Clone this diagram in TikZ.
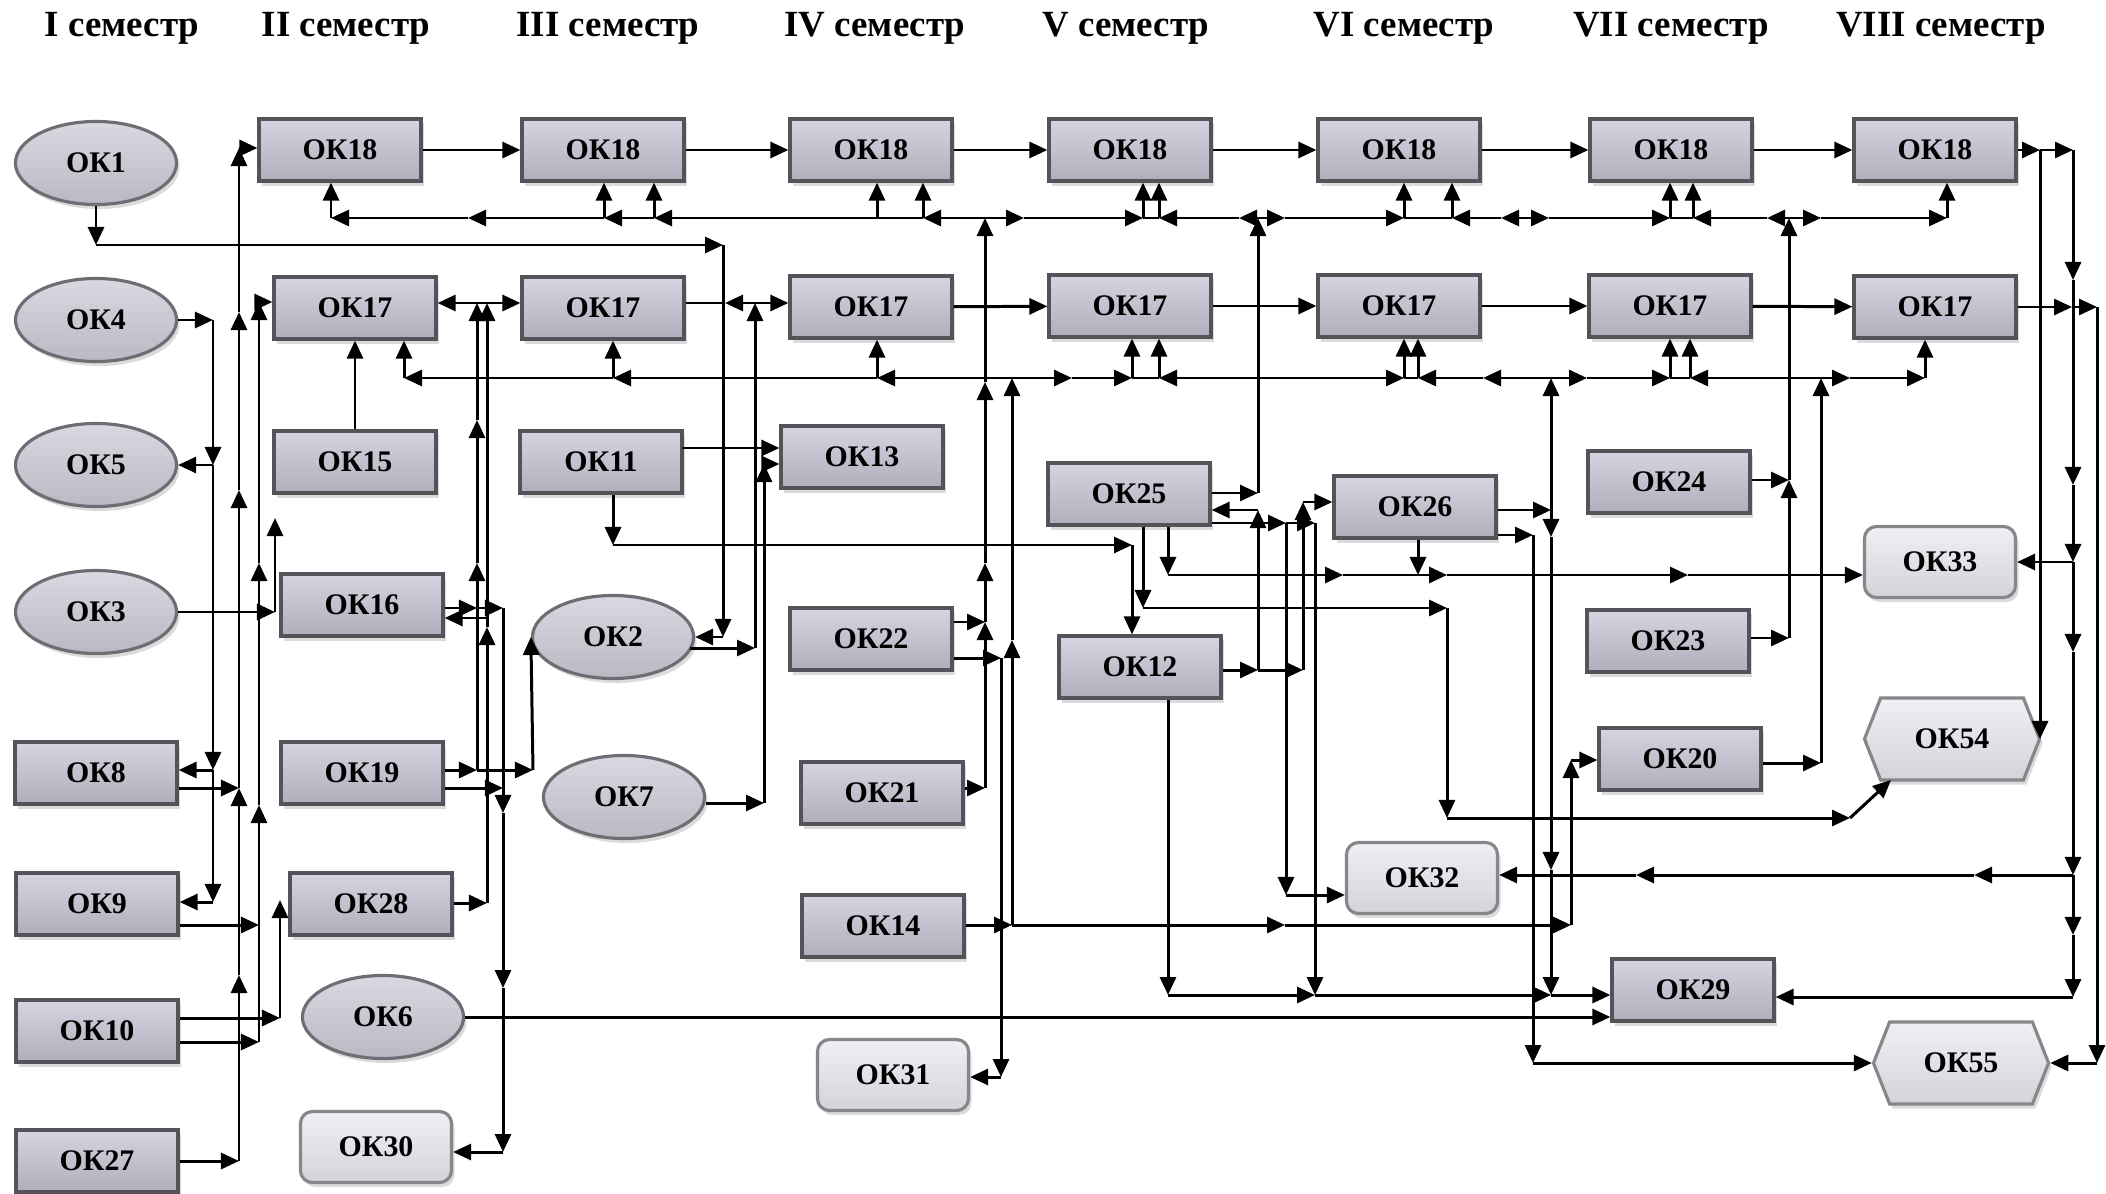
\documentclass[tikz,border=0pt]{standalone}
\usepackage{fontspec}
\setmainfont{Liberation Serif}
\usetikzlibrary{arrows.meta,shapes.geometric,shapes.symbols,shadows}
\definecolor{boxtop}{RGB}{214,212,224}
\definecolor{boxbot}{RGB}{176,174,186}
\definecolor{ovtop}{RGB}{218,217,226}
\definecolor{ovbot}{RGB}{186,185,195}
\definecolor{lighttop}{RGB}{240,239,244}
\definecolor{lightbot}{RGB}{212,211,218}
\definecolor{bordc}{RGB}{84,83,90}
\newcommand{\Cp}[3]{\coordinate (#1) at (#2,#3);}
\begin{document}
\begin{tikzpicture}[x=0.01cm,y=-0.01cm,
  ln/.style={line width=0.85pt},
  ar/.style={line width=0.85pt,-{Triangle[length=0.18cm,width=0.16cm]}},
  shd/.style={drop shadow={shadow xshift=0.03cm,shadow yshift=-0.045cm,opacity=0.28}},
  lbl/.style={font=\fontsize{8.5pt}{10pt}\selectfont\bfseries},
  box/.style={rectangle,draw=bordc,line width=0.9pt,top color=boxtop,bottom color=boxbot,
    minimum width=1.62cm,minimum height=0.62cm,inner sep=0pt,shd,lbl},
  oval/.style={ellipse,draw=bordc!85,line width=0.9pt,top color=ovtop,bottom color=ovbot,
    minimum width=1.61cm,minimum height=0.83cm,inner sep=0pt,shd,lbl},
  rbox/.style={rectangle,rounded corners=0.12cm,draw=bordc!70,line width=0.9pt,top color=lighttop,
    bottom color=lightbot,minimum width=1.51cm,minimum height=0.71cm,inner sep=0pt,shd,lbl},
  hexa/.style={signal,signal to=east and west,signal pointer angle=137,draw=bordc!70,line width=0.9pt,
    top color=lighttop,bottom color=lightbot,minimum width=1.75cm,minimum height=0.82cm,inner sep=0pt,shd,lbl},
  ttl/.style={anchor=base,font=\fontsize{10.5pt}{12pt}\selectfont\bfseries}]
\useasboundingbox (0,0) rectangle (2106,1194);
\fill[white] (0,0) rectangle (2106,1194);

% titles
\node[ttl] (t1) at (122,37) {I семестр};
\node[ttl] (t2) at (346,37) {II семестр};
\node[ttl] (t3) at (608,37) {III семестр};
\node[ttl] (t4) at (875,37) {IV семестр};
\node[ttl] (t5) at (1126,37) {V семестр};
\node[ttl] (t6) at (1404,37) {VI семестр};
\node[ttl] (t7) at (1671,37) {VII семестр};
\node[ttl] (t8) at (1941,37) {VIII семестр};

% ellipses
\node[oval] (ok1) at (96,163) {ОК1};
\node[oval] (ok4) at (96,320) {ОК4};
\node[oval] (ok5) at (96,465) {ОК5};
\node[oval] (ok3) at (96,612) {ОК3};
\node[oval] (ok2) at (613,637) {ОК2};
\node[oval] (ok7) at (624,797) {ОК7};
\node[oval] (ok6) at (383,1017) {ОК6};

% OK18 row
\node[box] (a18) at (340,150) {ОК18};
\node[box] (b18) at (603,150) {ОК18};
\node[box] (c18) at (871,150) {ОК18};
\node[box] (d18) at (1130,150) {ОК18};
\node[box] (e18) at (1399,150) {ОК18};
\node[box] (f18) at (1671,150) {ОК18};
\node[box] (g18) at (1935,150) {ОК18};
% OK17 row
\node[box] (a17) at (355,308) {ОК17};
\node[box] (b17) at (603,308) {ОК17};
\node[box] (c17) at (871,307) {ОК17};
\node[box] (d17) at (1130,306) {ОК17};
\node[box] (e17) at (1399,306) {ОК17};
\node[box] (f17) at (1670,306) {ОК17};
\node[box] (g17) at (1935,307) {ОК17};

% other boxes
\node[box] (ok15) at (355,462) {ОК15};
\node[box] (ok11) at (601,462) {ОК11};
\node[box] (ok13) at (862,457) {ОК13};
\node[box] (ok16) at (362,605) {ОК16};
\node[box] (ok22) at (871,639) {ОК22};
\node[box] (ok25) at (1129,494) {ОК25};
\node[box] (ok26) at (1415,507) {ОК26};
\node[box] (ok24) at (1669,482) {ОК24};
\node[box] (ok12) at (1140,667) {ОК12};
\node[box] (ok23) at (1668,641) {ОК23};
\node[box] (ok8) at (96,773) {ОК8};
\node[box] (ok19) at (362,773) {ОК19};
\node[box] (ok21) at (882,793) {ОК21};
\node[box] (ok20) at (1680,759) {ОК20};
\node[box] (ok9) at (97,904) {ОК9};
\node[box] (ok28) at (371,904) {ОК28};
\node[box] (ok14) at (883,926) {ОК14};
\node[box] (ok29) at (1693,990) {ОК29};
\node[box] (ok10) at (97,1031) {ОК10};
\node[box] (ok27) at (97,1161) {ОК27};
% rounded
\node[rbox] (ok30) at (376,1147) {ОК30};
\node[rbox] (ok31) at (893,1075) {ОК31};
\node[rbox] (ok32) at (1422,878) {ОК32};
\node[rbox] (ok33) at (1940,562) {ОК33};
% hexagons
\node[hexa] (ok54) at (1952,739) {ОК54};
\node[hexa] (ok55) at (1961,1063) {ОК55};

% ---------- chains ----------
\foreach \a/\b in {a18/b18,b18/c18,c18/d18,d18/e18,e18/f18,f18/g18,c17/d17,d17/e17,e17/f17,f17/g17}
  \draw[ar] (\a) -- (\b);

% ---------- bus 218 ----------
\foreach \x in {331,468,604,654,877,923,985,1024,1143,1159,1239,1258,1285,1404,1452,1501,1525,1549,1670,1693,1767,1789,1821,1947}
  \coordinate (bA\x) at (\x,218);
\foreach \p/\n in {331/a18,604/b18,654/b18,877/c18,923/c18,1143/d18,1159/d18,1404/e18,1452/e18,1670/f18,1693/f18,1947/g18}
  \draw[ar] (bA\p) -- (bA\p |- \n.south);
\foreach \a/\b in {985/923,923/654,654/604,604/468,468/331,985/1024,1024/1143,1258/1239,1239/1159,1258/1285,1285/1404,1525/1501,1501/1452,1525/1549,1549/1670,1789/1767,1767/1693,1789/1821,1821/1947}
  \draw[ar] (bA\a) -- (bA\b);
\draw[ln] (bA1143) -- (bA1159);
\draw[ln] (bA1404) -- (bA1452);
\draw[ln] (bA1670) -- (bA1693);

% ---------- bus 378 ----------
\foreach \x in {404,613,877,1012,1072,1132,1159,1200,1404,1418,1483,1551,1587,1670,1690,1821,1850,1925}
  \coordinate (bB\x) at (\x,378);
\foreach \p/\n in {404/a17,613/b17,877/c17,1132/d17,1159/d17,1404/e17,1418/e17,1670/f17,1690/f17,1925/g17}
  \draw[ar] (bB\p) -- (bB\p |- \n.south);
\foreach \a/\b in {1012/877,877/613,613/404,1012/1072,1072/1132,1200/1159,1200/1404,1551/1483,1483/1418,1551/1587,1587/1670,1821/1690,1821/1850,1850/1925}
  \draw[ar] (bB\a) -- (bB\b);
\draw[ln] (bB1132) -- (bB1159);
\draw[ln] (bB1404) -- (bB1418);
\draw[ln] (bB1670) -- (bB1690);

% ---------- right side ----------
\Cp{r1}{2040}{150} \Cp{r2}{2073}{150} \Cp{r3}{2073}{280} \Cp{r4}{2073}{485}
\Cp{r5}{2073}{562} \Cp{r6}{2073}{652} \Cp{r7}{2073}{875} \Cp{r8}{2073}{935} \Cp{r9}{2073}{997}
\Cp{q1}{1974}{875} \Cp{q2}{1636}{875}
\draw[ar] (g18) -- (r1);
\draw[ar] (r1) -- (r2);
\draw[ar] (r1) -- (r1 |- ok54.east);
\foreach \a/\b in {r2/r3,r3/r4,r4/r5,r5/r6,r6/r7,r7/r8,r8/r9,r7/q1,q1/q2}
  \draw[ar] (\a) -- (\b);
\draw[ar] (r5) -- (r5 -| ok33.east);
\draw[ar] (q2) -- (q2 -| ok32.east);
\draw[ar] (r9) -- (r9 -| ok29.east);
\Cp{s1}{2072}{307} \Cp{s2}{2097}{307} \Cp{s3}{2097}{1063}
\draw[ar] (g17) -- (s1);
\draw[ar] (s1) -- (s2);
\draw[ar] (s2) -- (s3);
\draw[ar] (s3) -- (ok55.east);

% ---------- left verticals ----------
\Cp{v213a}{213}{320} \Cp{v213b}{213}{465} \Cp{v213c}{213}{770} \Cp{v213d}{213}{902}
\draw[ar] (ok4.east) -- (v213a);
\draw[ar] (v213a) -- (v213b);
\draw[ar] (v213b) -- (ok5.east);
\draw[ar] (v213b) -- (v213c);
\draw[ar] (v213c) -- (v213c -| ok8.east);
\draw[ar] (v213c) -- (v213d);
\draw[ar] (v213d) -- (v213d -| ok9.east);

\Cp{v239a}{239}{1161} \Cp{v239b}{239}{975} \Cp{v239c}{239}{788} \Cp{v239d}{239}{490} \Cp{v239e}{239}{312} \Cp{v239f}{239}{148}
\draw[ar] (ok27.east) -- (v239a);
\foreach \a/\b in {v239a/v239b,v239b/v239c,v239c/v239d,v239d/v239e,v239e/v239f}
  \draw[ar] (\a) -- (\b);
\draw[ar] (v239f) -- (v239f -| a18.west);
\draw[ar] (v239c -| ok8.east) -- (v239c);

\Cp{v259a}{259}{1042} \Cp{v259b}{259}{805} \Cp{v259c}{259}{563} \Cp{v259d}{259}{302} \Cp{h925l}{259}{925}
\draw[ar] (v259a -| ok10.east) -- (v259a);
\foreach \a/\b in {v259a/v259b,v259b/v259c,v259c/v259d}
  \draw[ar] (\a) -- (\b);
\draw[ar] (v259d) -- (v259d -| a17.west);
\draw[ar] (h925l -| ok9.east) -- (h925l);

\Cp{v275a}{275}{612} \Cp{v275b}{275}{518}
\draw[ar] (ok3.east) -- (v275a);
\draw[ar] (v275a) -- (v275b);

\Cp{v280a}{280}{1018} \Cp{v280b}{280}{900}
\draw[ar] (v280a -| ok10.east) -- (v280a);
\draw[ar] (v280a) -- (v280b);

\draw[ar] (ok15.north) -- (ok15.north |- a17.south);

% ---------- OK16 / OK19 / OK28 area ----------
\Cp{h608a}{477}{608} \Cp{h608b}{503}{608} \Cp{h618}{487}{618}
\Cp{v503a}{503}{813} \Cp{v503b}{503}{988} \Cp{v503c}{503}{1152}
\draw[ar] (h608a -| ok16.east) -- (h608a);
\draw[ar] (h608a) -- (h608b);
\foreach \a/\b in {h608b/v503a,v503a/v503b,v503b/v503c}
  \draw[ar] (\a) -- (\b);
\draw[ar] (v503c) -- (v503c -| ok30.east);
\draw[ar] (h618) -- (h618 -| ok16.east);

\Cp{h770a}{477}{770} \Cp{h770b}{533}{770} \Cp{h788}{503}{788} \Cp{h903}{487}{903}
\draw[ar] (h770a -| ok19.east) -- (h770a);
\draw[ar] (h770a) -- (h770b);
\draw[ar] (h770b) -- (ok2.west);
\draw[ar] (h788 -| ok19.east) -- (h788);
\draw[ar] (h903 -| ok28.east) -- (h903);

\Cp{v477a}{477}{563} \Cp{v477b}{477}{420} \Cp{v477c}{477}{303}
\Cp{v487a}{487}{627} \Cp{v487b}{487}{303}
\foreach \a/\b in {h770a/v477a,v477a/v477b,v477b/v477c,h903/v487a,v487a/v487b}
  \draw[ar] (\a) -- (\b);
\Cp{k1}{482}{303}
\draw[ar] (k1) -- (k1 -| a17.east);
\draw[ar] (k1) -- (k1 -| b17.west);

% ---------- OK1 / OK2 ----------
\Cp{h245a}{96}{245} \Cp{h245b}{723}{245} \Cp{v723}{723}{637}
\draw[ar] (ok1.south) -- (h245a);
\draw[ar] (h245a) -- (h245b);
\draw[ar] (h245b) -- (v723);
\draw[ar] (v723) -- (ok2.east);

\Cp{o2r}{690}{648} \Cp{v755a}{755}{648} \Cp{v755b}{755}{303} \Cp{k3}{725}{303}
\draw[ar] (o2r) -- (v755a);
\draw[ar] (v755a) -- (v755b);
\draw[ar] (v755b) -- (v755b -| c17.west);
\draw[ar] (v755b) -- (k3);
\draw[ln] (k3) -- (k3 -| b17.east);

% ---------- OK11 / OK13 / OK7 ----------
\Cp{o11r}{682}{448}
\draw[ar] (o11r) -- (o11r -| ok13.west);
\Cp{v764a}{764}{803} \Cp{v764b}{764}{464}
\draw[ar] (v764a -| ok7.east) -- (v764a);
\draw[ar] (v764a) -- (v764b);
\draw[ar] (v764b) -- (v764b -| ok13.west);
\Cp{v613a}{613}{545} \Cp{h545}{1132}{545}
\draw[ar] (v613a |- ok11.south) -- (v613a);
\draw[ar] (v613a) -- (h545);
\draw[ar] (h545) -- (h545 |- ok12.north);

% ---------- V985 / V1001 / V1012 ----------
\Cp{v985a}{985}{788} \Cp{v985b}{985}{622} \Cp{v985c}{985}{563} \Cp{v985d}{985}{382}
\draw[ar] (v985a -| ok21.east) -- (v985a);
\draw[ar] (v985b -| ok22.east) -- (v985b);
\foreach \a/\b in {v985a/v985b,v985b/v985c,v985c/v985d,v985d/bA985}
  \draw[ar] (\a) -- (\b);
\Cp{v1001a}{1001}{658} \Cp{v1001b}{1001}{1077}
\draw[ar] (v1001a -| ok22.east) -- (v1001a);
\draw[ar] (v1001a) -- (v1001b);
\draw[ar] (v1001b) -- (v1001b -| ok31.east);
\Cp{v1012a}{1012}{925} \Cp{v1012b}{1012}{640}
\draw[ar] (v1012a -| ok14.east) -- (v1012a);
\draw[ar] (v1012a) -- (v1012b);
\draw[ar] (v1012b) -- (bB1012);
\Cp{h925a}{1285}{925} \Cp{h925b}{1571}{925} \Cp{v1571}{1571}{760}
\draw[ar] (v1012a) -- (h925a);
\draw[ar] (h925a) -- (h925b);
\draw[ar] (h925b) -- (v1571);
\draw[ar] (v1571) -- (v1571 -| ok20.west);

\draw[ar] (ok6.east) -- (ok6.east -| ok29.west);

% ---------- OK25 / OK12 / OK26 ----------
\Cp{v1258a}{1258}{493} \Cp{v1258b}{1258}{670} \Cp{v1258c}{1258}{510}
\draw[ar] (v1258a -| ok25.east) -- (v1258a);
\draw[ar] (v1258a) -- (bA1258);
\draw[ar] (v1258b -| ok12.east) -- (v1258b);
\draw[ar] (v1258b) -- (v1258c);
\draw[ar] (v1258c) -- (v1258c -| ok25.east);
\Cp{v1303a}{1303}{670} \Cp{v1303b}{1303}{502}
\draw[ar] (v1258b) -- (v1303a);
\draw[ar] (v1303a) -- (v1303b);
\draw[ar] (v1303b) -- (v1303b -| ok26.west);
\Cp{h524a}{1286}{523} \Cp{h524b}{1315}{523} \Cp{v1286}{1286}{895} \Cp{v1315}{1315}{995}
\draw[ar] (h524a -| ok25.east) -- (h524a);
\draw[ar] (h524a) -- (h524b);
\draw[ar] (h524a) -- (v1286);
\draw[ar] (v1286) -- (v1286 -| ok32.west);
\draw[ar] (h524b) -- (v1315);

\Cp{v1143b}{1143}{608} \Cp{h608}{1447}{608} \Cp{v1447}{1447}{818} \Cp{h818}{1850}{818} \Cp{ok54in}{1891}{780}
\draw[ar] (v1143b |- ok25.south) -- (v1143b);
\draw[ar] (v1143b) -- (h608);
\draw[ar] (h608) -- (v1447);
\draw[ar] (v1447) -- (h818);
\draw[ar] (h818) -- (ok54in);

\Cp{v1168a}{1168}{575} \Cp{h575a}{1343}{575} \Cp{h575b}{1447}{575} \Cp{h575c}{1688}{575} \Cp{v1418}{1418}{575}
\draw[ar] (v1168a |- ok25.south) -- (v1168a);
\foreach \a/\b in {v1168a/h575a,h575a/h575b,h575b/h575c}
  \draw[ar] (\a) -- (\b);
\draw[ar] (h575c) -- (h575c -| ok33.west);
\draw[ar] (v1418 |- ok26.south) -- (v1418);

\Cp{v1168b}{1168}{995} \Cp{h995a}{1551}{995}
\draw[ar] (v1168b |- ok12.south) -- (v1168b);
\draw[ar] (v1168b) -- (v1315);
\draw[ar] (v1315) -- (h995a);
\draw[ar] (h995a) -- (h995a -| ok29.west);

\Cp{v1551a}{1551}{510} \Cp{v1551b}{1551}{537} \Cp{v1551c}{1551}{870}
\draw[ar] (v1551a -| ok26.east) -- (v1551a);
\draw[ar] (v1551a) -- (bB1551);
\foreach \a/\b in {v1551a/v1551b,v1551b/v1551c,v1551c/h995a}
  \draw[ar] (\a) -- (\b);
\Cp{v1533a}{1533}{535} \Cp{v1533b}{1533}{1063}
\draw[ar] (v1533a -| ok26.east) -- (v1533a);
\draw[ar] (v1533a) -- (v1533b);
\draw[ar] (v1533b) -- (ok55.west);

% ---------- OK24 / OK23 / OK20 ----------
\Cp{v1789a}{1789}{638} \Cp{v1789b}{1789}{480}
\draw[ar] (v1789a -| ok23.east) -- (v1789a);
\draw[ar] (v1789a) -- (v1789b);
\draw[ar] (v1789b) -- (bA1789);
\draw[ar] (v1789b -| ok24.east) -- (v1789b);
\Cp{v1821}{1821}{763}
\draw[ar] (v1821 -| ok20.east) -- (v1821);
\draw[ar] (v1821) -- (bB1821);
\end{tikzpicture}
\end{document}
